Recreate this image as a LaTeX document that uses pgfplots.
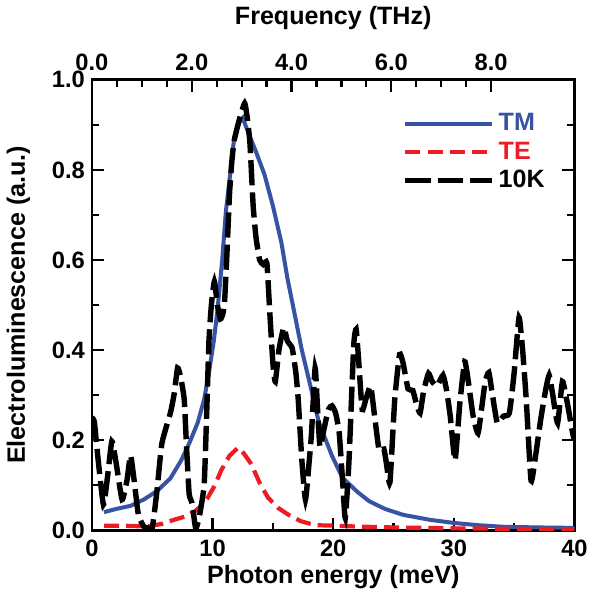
\documentclass[border=0pt]{standalone}
\usepackage{pgfplots}
\pgfplotsset{compat=1.18}
\usepackage{fontspec}
\setmainfont{Liberation Sans}
\definecolor{tmblue}{RGB}{57,83,164}
\definecolor{tered}{RGB}{237,28,36}
\begin{document}
\begin{tikzpicture}
\pgfplotsset{
  common/.style={
    scale only axis, width=239.5bp, height=223.5bp,
    axis line style={line width=1.4pt},
    every tick/.style={black, line width=1.1pt},
    major tick length=6bp, minor tick length=3.5bp,
    tick align=inside,
    tick label style={font=\bfseries\fontsize{11.8}{14}\selectfont},
    label style={font=\bfseries\fontsize{12.5}{15}\selectfont},
    /pgf/number format/assume math mode=true,
  }
}
\begin{axis}[common,
  xmin=0,xmax=40,ymin=0,ymax=1,
  xtick={0,10,20,30,40}, minor x tick num=1,
  ytick={0,0.2,0.4,0.6,0.8,1.0}, minor y tick num=1,
  xtick pos=bottom, ytick pos=both,
  yticklabel style={/pgf/number format/.cd, fixed, fixed zerofill, precision=1},
  xticklabel style={yshift=-1.5bp},
  xlabel={Photon energy (meV)}, ylabel={Electroluminescence (a.u.)},
  xlabel style={yshift=2.5bp}, ylabel style={yshift=4bp},
  legend cell align=left,
  legend style={draw=none, fill=none, at={(0.643,0.935)}, anchor=north west,
    font=\bfseries\fontsize{12.5}{15}\selectfont, row sep=0bp,
    inner sep=0pt},
  legend image code/.code={\draw[#1] (0bp,0bp) -- (43bp,0bp);},
]
\addplot[tmblue, line width=2pt] coordinates {
(1,0.04) (2,0.047) (3.2,0.054) (4.3,0.068) (5.4,0.087) (6.5,0.115) (7.4,0.155) (8.1,0.195) (8.76,0.238) (9.3,0.29) (9.7,0.35) (10.1,0.42) (10.4,0.487) (10.8,0.6) (11.1,0.707) (11.5,0.8) (11.8,0.873) (12.2,0.905) (12.5,0.915) (13.0,0.88) (13.6,0.84) (14.3,0.79) (15.0,0.72) (15.7,0.639) (16.2,0.56) (16.8,0.48) (17.4,0.40) (18.2,0.31) (18.8,0.24) (19.9,0.165) (20.75,0.117) (22,0.085) (23,0.064) (24.3,0.047) (25.8,0.034) (28,0.023) (30,0.016) (32,0.011) (34.1,0.0075) (37,0.006) (40,0.005)
};
\addlegendentry{\textcolor{tmblue}{TM}}
\addplot[tered, line width=2.1pt, dash pattern=on 7.5bp off 3.5bp] coordinates {
(1,0.01) (2.5,0.01) (4.6,0.008) (5.8,0.014) (6.8,0.023) (7.7,0.03) (8.5,0.041) (9.1,0.055) (9.6,0.072) (10.2,0.1) (10.7,0.132) (11.4,0.165) (12.1,0.183) (12.6,0.17) (13.2,0.147) (13.9,0.105) (14.6,0.072) (15.4,0.05) (16.3,0.034) (17.3,0.02) (18.5,0.011) (20,0.01) (22,0.008) (25,0.006) (30,0.004) (35,0.003) (40,0.002)
};
\addlegendentry{\textcolor{tered}{TE}}
\addplot[black, line width=2.7pt, dash pattern=on 12.5bp off 3.5bp, smooth, tension=0.3] coordinates {
(0,0.25) (0.2,0.24) (0.5,0.16) (0.95,0.057) (1.3,0.12) (1.65,0.197) (2.0,0.15) (2.5,0.068) (2.9,0.11) (3.2,0.166) (3.5,0.11) (3.85,0.034) (4.3,0.008) (4.6,0.005) (5.0,0.005) (5.4,0.09) (5.8,0.193) (6.5,0.26) (6.8,0.3) (7.1,0.36) (7.35,0.34) (7.65,0.29) (7.85,0.18) (8.06,0.08) (8.3,0.06) (8.6,0.004) (8.9,0.03) (9.3,0.10) (9.5,0.25) (9.7,0.42) (9.9,0.50) (10.15,0.552) (10.4,0.50) (10.65,0.469) (10.85,0.48) (11.0,0.51) (11.2,0.62) (11.4,0.745) (11.6,0.82) (11.8,0.866) (12.2,0.91) (12.66,0.948) (12.9,0.91) (13.1,0.858) (13.36,0.722) (13.6,0.65) (13.9,0.60) (14.2,0.59) (14.5,0.593) (14.75,0.48) (15.0,0.37) (15.2,0.33) (15.5,0.40) (15.9,0.45) (16.2,0.42) (16.6,0.404) (16.9,0.35) (17.1,0.29) (17.4,0.155) (17.7,0.068) (18.0,0.15) (18.2,0.215) (18.5,0.36) (18.7,0.27) (18.9,0.185) (19.2,0.22) (19.6,0.268) (19.9,0.276) (20.2,0.26) (20.5,0.215) (20.8,0.1) (21.0,0.027) (21.3,0.15) (21.7,0.41) (21.9,0.446) (22.1,0.38) (22.4,0.268) (22.7,0.29) (23.1,0.32) (23.4,0.26) (23.8,0.178) (24.2,0.18) (24.4,0.15) (24.7,0.106) (25.1,0.29) (25.5,0.39) (25.8,0.37) (26.2,0.314) (26.6,0.31) (26.9,0.28) (27.2,0.26) (27.5,0.31) (27.9,0.348) (28.2,0.33) (28.6,0.32) (29.1,0.344) (29.4,0.31) (29.7,0.253) (30.1,0.155) (30.5,0.283) (30.9,0.374) (31.2,0.33) (31.6,0.253) (32.0,0.215) (32.3,0.27) (32.6,0.33) (32.9,0.35) (33.2,0.3) (33.6,0.238) (34.1,0.253) (34.6,0.26) (35.0,0.35) (35.4,0.472) (35.7,0.4) (36.0,0.29) (36.4,0.11) (36.8,0.17) (37.2,0.246) (37.6,0.31) (37.9,0.344) (38.2,0.3) (38.6,0.238) (39.0,0.33) (39.4,0.283) (39.85,0.215) (40,0.2)
};
\addlegendentry{10K}
\end{axis}
\begin{axis}[common,
  xmin=0, xmax=9.6719, ymin=0, ymax=1,
  axis x line*=top, axis y line=none,
  xtick={0,2,4,6,8}, minor x tick num=3,
  xticklabel style={yshift=1bp, /pgf/number format/.cd, fixed, fixed zerofill, precision=1},
  xlabel={Frequency (THz)}, xlabel style={yshift=5bp},
]
\addplot[draw=none] coordinates {(0,0) (9.6,1)};
\end{axis}
\end{tikzpicture}
\end{document}
